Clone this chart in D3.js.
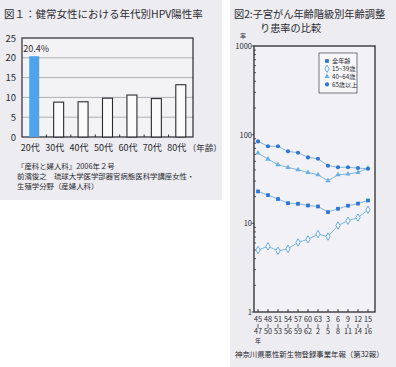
<!DOCTYPE html>
<html>
<head>
<meta charset="utf-8">
<script src="https://cdn.jsdelivr.net/npm/d3@7"></script>
<style>
  html, body { margin: 0; padding: 0; background: #fff; }
  svg { display: block; font-family: "Noto Sans CJK JP", "Noto Sans", sans-serif; }
</style>
</head>
<body>
<div id="canvas"></div>
<script>
// data, chart 1
var ageGroups = ['20代', '30代', '40代', '50代', '60代', '70代', '80代'];
var hpvRates = [20.4, 8.8, 8.9, 9.8, 10.6, 9.7, 13.2];
var hpvTicks = [0, 5, 10, 15, 20, 25];

// data, chart 2
var periodTop = ['45', '48', '51', '54', '57', '60', '63', '3', '6', '9', '12', '15'];
var periodBottom = ['47', '50', '53', '56', '59', '62', '2', '5', '8', '11', '14', '16'];
var seriesNames = ['全年齢', '15~39歳', '40~64歳', '65歳以上'];
var allAges = [22.9, 20.8, 18.8, 16.9, 16.6, 15.9, 15.5, 13.4, 14.6, 15.8, 16.7, 18.1];
var age15to39 = [5.0, 5.5, 4.9, 5.15, 6.1, 6.6, 7.55, 7.1, 9.45, 10.7, 11.6, 14.2];
var age40to64 = [62, 53, 45.8, 42.7, 40.2, 37.5, 35.3, 30.2, 35.3, 36, 37.5, 42];
var age65plus = [84, 74, 74, 64.8, 62.6, 55.4, 53.6, 44.6, 42.9, 42.9, 42, 41.3];
var rateTicks = [1, 10, 100, 1000];

(function (d3) {
  var svg;
  var W = 396, H = 367;
  var ink = '#2b2b30';
  var lineBlue = '#7db9e6';
  var markBlue = '#2f73d4';

  init();

  function init () {
    svg = d3.select('#canvas')
      .append('svg')
      .attr('width', W)
      .attr('height', H);
    createPanels();
    createBarChart();
    createLineChart();
  }

  function createPanels () {
    svg.append('rect').attr('x', 0).attr('y', 0).attr('width', 222).attr('height', 200).attr('fill', '#ececf1');
    svg.append('rect').attr('x', 230).attr('y', 0).attr('width', 166).attr('height', 367).attr('fill', '#ececf1');
  }

  function createBarChart () {
    var g = svg.append('g');
    var left = 22, right = 193, top = 38, bottom = 137;

    var x = d3.scaleBand().domain(ageGroups).range([left, right]);
    var y = d3.scaleLinear().domain([0, 25]).range([bottom, top]);

    g.append('text')
      .attr('x', 4).attr('y', 18)
      .style('font-size', '10.5px')
      .attr('fill', ink)
      .text('図１：健常女性における年代別HPV陽性率');

    g.append('rect')
      .attr('x', left).attr('y', top)
      .attr('width', right - left).attr('height', bottom - top)
      .attr('fill', '#f3f3f6');

    // grid lines
    g.append('g')
      .selectAll('line')
      .data(hpvTicks.filter(function (d) { return d > 0 && d < 25; }))
      .enter()
      .append('line')
      .attr('x1', left).attr('x2', right)
      .attr('y1', function (d) { return y(d); })
      .attr('y2', function (d) { return y(d); })
      .attr('stroke', '#9a9aa2')
      .attr('stroke-width', 0.8);

    g.append('rect')
      .attr('x', left).attr('y', top)
      .attr('width', right - left).attr('height', bottom - top)
      .attr('fill', 'none')
      .attr('stroke', ink)
      .attr('stroke-width', 1.2);

    // y tick labels
    g.append('g')
      .selectAll('text')
      .data(hpvTicks)
      .enter()
      .append('text')
      .attr('x', 16)
      .attr('y', function (d) { return y(d) + 3.5; })
      .attr('text-anchor', 'end')
      .style('font-size', '9.5px')
      .attr('fill', ink)
      .text(function (d) { return d; });

    // small ticks between bars
    g.append('g')
      .selectAll('line')
      .data(ageGroups.slice(1))
      .enter()
      .append('line')
      .attr('x1', function (d) { return x(d); })
      .attr('x2', function (d) { return x(d); })
      .attr('y1', bottom).attr('y2', bottom - 2.5)
      .attr('stroke', ink)
      .attr('stroke-width', 1);

    var barW = 10;
    g.append('g')
      .selectAll('rect')
      .data(hpvRates)
      .enter()
      .append('rect')
      .attr('x', function (d, i) { return x(ageGroups[i]) + x.bandwidth() / 2 - barW / 2; })
      .attr('y', function (d) { return y(d); })
      .attr('width', barW)
      .attr('height', function (d) { return bottom - y(d); })
      .attr('fill', function (d, i) { return i === 0 ? '#4fa3ea' : '#fafafa'; })
      .attr('stroke', function (d, i) { return i === 0 ? 'none' : ink; })
      .attr('stroke-width', 1.1);

    g.append('text')
      .attr('x', x(ageGroups[0]) + x.bandwidth() / 2 + 2)
      .attr('y', y(hpvRates[0]) - 4)
      .attr('text-anchor', 'middle')
      .style('font-size', '9px')
      .attr('fill', ink)
      .text(hpvRates[0] + '%');

    // x labels
    g.append('g')
      .selectAll('text')
      .data(ageGroups)
      .enter()
      .append('text')
      .attr('x', function (d) { return x(d) + x.bandwidth() / 2 - 4; })
      .attr('y', 151)
      .attr('text-anchor', 'middle')
      .style('font-size', '9px')
      .attr('fill', ink)
      .text(function (d) { return d; });

    g.append('text')
      .attr('x', x(ageGroups[6]) + x.bandwidth() / 2 + 7)
      .attr('y', 151)
      .style('font-size', '8.5px')
      .attr('fill', ink)
      .text('（年齢）');

    var source = ['『産科と婦人科』2006年２号', '前濱俊之　琉球大学医学部器官病態医科学講座女性・', '生殖学分野（産婦人科）'];
    g.append('g')
      .selectAll('text')
      .data(source)
      .enter()
      .append('text')
      .attr('x', 17)
      .attr('y', function (d, i) { return 169 + i * 10; })
      .style('font-size', '7.4px')
      .attr('fill', ink)
      .text(function (d) { return d; });
  }

  function createLineChart () {
    var g = svg.append('g');
    var left = 254, right = 375, top = 46, bottom = 312;

    var x = d3.scalePoint().domain(d3.range(periodTop.length)).range([258, 368]);
    var y = d3.scaleLog().domain([1, 1000]).range([bottom, top]);

    g.append('text')
      .attr('x', 234).attr('y', 18)
      .style('font-size', '10.2px')
      .attr('fill', ink)
      .text('図2:子宮がん年齢階級別年齢調整');
    g.append('text')
      .attr('x', 260).attr('y', 32)
      .style('font-size', '10.2px')
      .attr('fill', ink)
      .text('り患率の比較');

    g.append('rect')
      .attr('x', left).attr('y', top)
      .attr('width', right - left).attr('height', bottom - top)
      .attr('fill', '#f2f2f6');

    g.append('text')
      .attr('x', 240).attr('y', 38)
      .style('font-size', '6px')
      .attr('fill', ink)
      .text('率');

    g.append('g')
      .selectAll('text')
      .data(rateTicks)
      .enter()
      .append('text')
      .attr('x', 252)
      .attr('y', function (d) { return y(d) + 3; })
      .attr('text-anchor', 'end')
      .style('font-size', '7.5px')
      .attr('fill', ink)
      .text(function (d) { return d; });

    // log minor ticks on the left axis
    var minor = [];
    [1, 10, 100].forEach(function (dec) {
      d3.range(2, 10).forEach(function (k) { minor.push(dec * k); });
    });
    g.append('g')
      .selectAll('line')
      .data(minor.concat(rateTicks))
      .enter()
      .append('line')
      .attr('x1', left).attr('x2', function (d) { return rateTicks.indexOf(d) >= 0 ? left - 2.5 : left + 2; })
      .attr('y1', function (d) { return y(d); })
      .attr('y2', function (d) { return y(d); })
      .attr('stroke', ink)
      .attr('stroke-width', 0.8);

    // bottom ticks
    g.append('g')
      .selectAll('line')
      .data(x.domain())
      .enter()
      .append('line')
      .attr('x1', function (d) { return x(d); })
      .attr('x2', function (d) { return x(d); })
      .attr('y1', bottom).attr('y2', bottom - 3)
      .attr('stroke', ink)
      .attr('stroke-width', 0.9);

    g.append('rect')
      .attr('x', left).attr('y', top)
      .attr('width', right - left).attr('height', bottom - top)
      .attr('fill', 'none')
      .attr('stroke', ink)
      .attr('stroke-width', 1.3);

    var series = [
      { name: seriesNames[0], values: allAges, symbol: d3.symbolSquare, size: 14, fill: markBlue, stroke: 'none' },
      { name: seriesNames[1], values: age15to39, symbol: d3.symbolDiamond, size: 16, fill: '#f6f6fa', stroke: '#4a9ad8' },
      { name: seriesNames[2], values: age40to64, symbol: d3.symbolTriangle, size: 12, fill: '#6aaee3', stroke: 'none' },
      { name: seriesNames[3], values: age65plus, symbol: d3.symbolCircle, size: 13, fill: markBlue, stroke: 'none' }
    ];

    var line = d3.line()
      .x(function (d, i) { return x(i); })
      .y(function (d) { return y(d); });

    series.forEach(function (s) {
      g.append('path')
        .attr('d', line(s.values))
        .attr('fill', 'none')
        .attr('stroke', lineBlue)
        .attr('stroke-width', 1);
      g.append('g')
        .selectAll('path')
        .data(s.values)
        .enter()
        .append('path')
        .attr('d', d3.symbol().type(s.symbol).size(s.size))
        .attr('transform', function (d, i) { return 'translate(' + x(i) + ',' + y(d) + ')'; })
        .attr('fill', s.fill)
        .attr('stroke', s.stroke)
        .attr('stroke-width', 0.8);
    });

    // legend
    var lg = g.append('g');
    lg.append('rect')
      .attr('x', 319).attr('y', 53)
      .attr('width', 38).attr('height', 40)
      .attr('fill', '#f7f7fa')
      .attr('stroke', '#55555c')
      .attr('stroke-width', 0.8);
    var items = lg.selectAll('g')
      .data(series)
      .enter()
      .append('g')
      .attr('transform', function (d, i) { return 'translate(327,' + (61 + i * 7.8) + ')'; });
    items.append('path')
      .attr('d', function (d) { return d3.symbol().type(d.symbol).size(d.size)(); })
      .attr('fill', function (d) { return d.fill; })
      .attr('stroke', function (d) { return d.stroke; })
      .attr('stroke-width', 0.8);
    items.append('text')
      .attr('x', 5).attr('y', 2.3)
      .style('font-size', '6.2px')
      .attr('fill', ink)
      .text(function (d) { return d.name; });

    // x labels: two rows joined by a bar
    var xl = g.append('g')
      .selectAll('g')
      .data(x.domain())
      .enter()
      .append('g')
      .attr('transform', function (d) { return 'translate(' + x(d) + ',0)'; });
    xl.append('text')
      .attr('y', 322)
      .attr('text-anchor', 'middle')
      .style('font-size', '7.2px')
      .attr('fill', ink)
      .text(function (d) { return periodTop[d]; });
    xl.append('line')
      .attr('y1', 324).attr('y2', 328)
      .attr('stroke', ink)
      .attr('stroke-width', 0.7);
    xl.append('text')
      .attr('y', 334)
      .attr('text-anchor', 'middle')
      .style('font-size', '7.2px')
      .attr('fill', ink)
      .text(function (d) { return periodBottom[d]; });
    g.append('text')
      .attr('x', x(0)).attr('y', 343)
      .attr('text-anchor', 'middle')
      .style('font-size', '6px')
      .attr('fill', ink)
      .text('年');

    g.append('text')
      .attr('x', 235).attr('y', 357)
      .style('font-size', '7.4px')
      .attr('fill', ink)
      .text('神奈川県悪性新生物登録事業年報（第32報）');
  }
})(window.d3);
</script>
</body>
</html>
